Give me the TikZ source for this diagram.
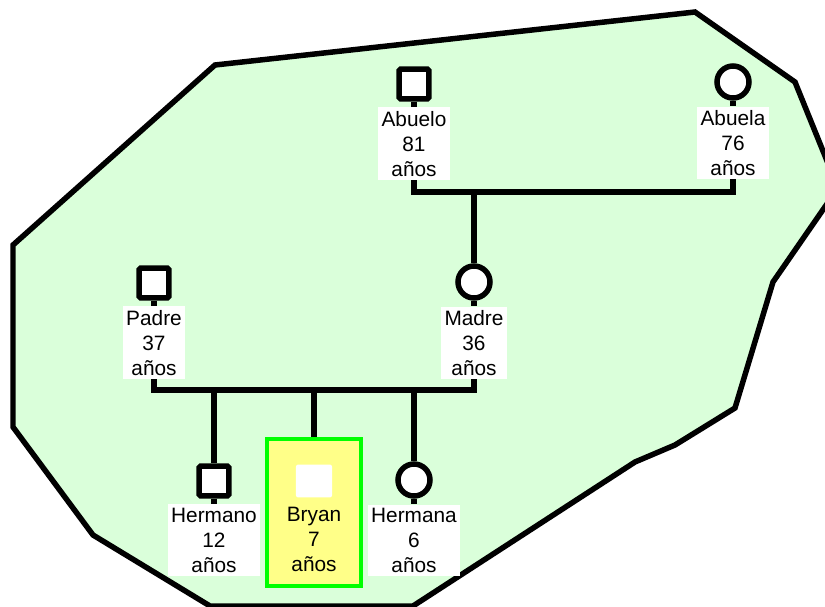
\documentclass[tikz,border=0pt]{standalone}
\usepackage{fontspec}
\setmainfont{Liberation Sans}
\usetikzlibrary{positioning}
\definecolor{zonegreen}{RGB}{218,255,218}
\definecolor{bryanyellow}{RGB}{255,255,136}
\definecolor{bryangreen}{RGB}{0,255,0}

\begin{document}
\begin{tikzpicture}[x=0.025cm, y=-0.025cm,
    line/.style={line width=3.9pt},
    male/.style={draw, line width=3.9pt, fill=white, rectangle, rounded corners=1pt, minimum size=0.74cm, inner sep=0pt},
    female/.style={draw, line width=3.9pt, fill=white, circle, minimum size=0.8cm, inner sep=0pt},
    namebox/.style={fill=white, align=center, inner xsep=2.5pt, inner ysep=2.5pt, font=\fontsize{14.8}{17.8}\selectfont}]
	\useasboundingbox (0,0) rectangle (825,607);
	% household area
	\draw[line, fill=zonegreen] (13,245) -- (215,65) -- (695,12) -- (795,82) -- (838,188) -- (773,282) -- (735,408) -- (675,445) -- (635,462) -- (413,606) -- (210,606) -- (93,535) -- (13,427) -- cycle;

	% grandparents
	\node[male] (abuelo) at (414,84) {};
	\node[namebox, below=4pt of abuelo] (abuelo l) {Abuelo\\81\\años};
	\node[female] (abuela) at (733,82) {};
	\node[namebox, below=4pt of abuela] (abuela l) {Abuela\\76\\años};

	% parents
	\node[male] (padre) at (154,283) {};
	\node[namebox, below=4pt of padre] (padre l) {Padre\\37\\años};
	\node[female] (madre) at (474,282) {};
	\node[namebox, below=4pt of madre] (madre l) {Madre\\36\\años};

	% children
	\node[male] (hermano) at (214,481) {};
	\node[namebox, below=4pt of hermano] (hermano l) {Hermano\\12\\años};
	\node[female] (hermana) at (414,480) {};
	\node[namebox, below=4pt of hermana] (hermana l) {Hermana\\6\\años};

	\node[draw=bryangreen, line width=3.3pt, fill=bryanyellow, minimum width=2.35cm, minimum height=3.675cm, inner sep=0pt] (bryan) at (314,512.5) {};
	\node[fill=white, rounded corners=1.5pt, minimum width=0.9cm, minimum height=0.82cm, inner sep=0pt] (bryan s) at (314,481) {};
	\node[namebox, fill=none, below=4pt of bryan s] (bryan l) {Bryan\\7\\años};

	\coordinate (gp) at (474,192);
	\coordinate (pp) at (314,390);

	\draw[line] (abuelo) -- (abuelo l);
	\draw[line] (abuela) -- (abuela l);
	\draw[line] (padre) -- (padre l);
	\draw[line] (madre) -- (madre l);
	\draw[line] (hermano) -- (hermano l);
	\draw[line] (hermana) -- (hermana l);

	\draw[line] (abuelo l.south) |- (gp) -| (abuela l.south);
	\draw[line] (gp) -- (madre);
	\draw[line] (padre l.south) |- (pp) -| (madre l.south);
	\draw[line] (pp) -- (bryan);
	\draw[line] (hermano |- pp) -- (hermano);
	\draw[line] (hermana |- pp) -- (hermana);

\end{tikzpicture}
\end{document}
